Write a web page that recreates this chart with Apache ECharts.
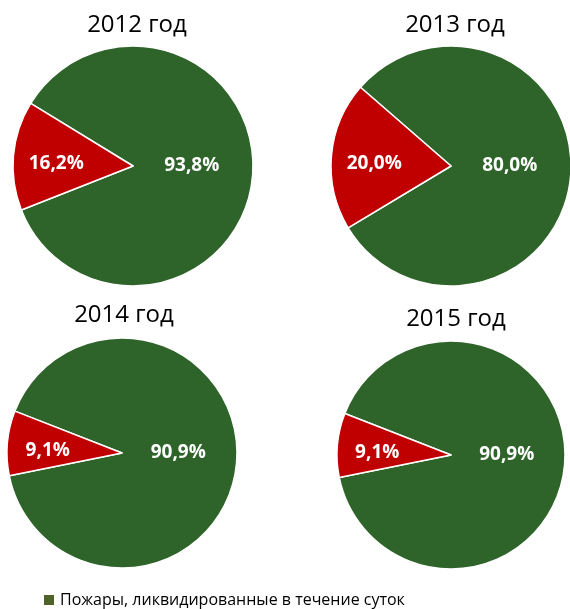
<!DOCTYPE html>
<html>
<head>
    <meta charset="utf-8">
    <title>pies</title>
    <script src="https://cdn.jsdelivr.net/npm/echarts@6/dist/echarts.min.js"></script>
</head>
<body style="margin:0;">
<div id="main" style="width:570px;height:609px;"></div>
<script type="text/javascript">
    // данные по годам
    var years = ['2012 год', '2013 год', '2014 год', '2015 год'];
    var inDay = [93.8, 80.0, 90.9, 90.9];      // ликвидированные в течение суток
    var overDay = [16.2, 20.0, 9.1, 9.1];      // остальные
    var seriesNames = ['Пожары, ликвидированные в течение суток', 'Пожары, ликвидированные более чем за сутки'];

    // размещение кругов
    var centers = [[133, 166], [451, 166], [122, 453], [451, 455]];
    var radii = [120, 120, 115, 114];
    var titlePos = [[132, 8], [450, 8], [119, 298], [451, 302]];

    var green = '#2e6329';
    var red = '#c00000';

    function fmt(v) {
        return v.toFixed(1).replace('.', ',') + '%';
    }

    var myChart = echarts.init(document.getElementById('main'));

    var titles = [];
    var series = [];
    for (var i = 0; i < years.length; i++) {
        titles.push({
            text: years[i],
            left: titlePos[i][0],
            top: titlePos[i][1],
            textAlign: 'center',
            textStyle: {fontFamily: 'Open Sans', fontSize: 24, fontWeight: 'normal', color: '#000'}
        });
        var frac = overDay[i] / (inDay[i] + overDay[i]);
        series.push({
            type: 'pie',
            center: centers[i],
            radius: [0, radii[i]],
            startAngle: 175 - frac * 180,   // красный сектор слева, чуть выше горизонтали
            clockwise: true,
            silent: true,
            itemStyle: {borderColor: '#fff', borderWidth: 1.5},
            label: {
                show: true,
                position: 'inside',
                color: '#fff',
                fontFamily: 'Open Sans',
                fontWeight: 'bold',
                fontSize: 19,
                formatter: function (p) { return fmt(p.value); }
            },
            labelLine: {show: false},
            data: [
                {name: seriesNames[0], value: inDay[i], itemStyle: {color: green},
                    label: {offset: [-4, -6]}},
                {name: seriesNames[1], value: overDay[i], itemStyle: {color: red},
                    label: {offset: [-14, 3]}}
            ]
        });
    }

    myChart.setOption({
        animation: false,
        title: titles,
        legend: {
            data: [{name: seriesNames[0], itemStyle: {color: '#4f6228'}}],
            left: 37,
            top: 587,
            icon: 'rect',
            itemWidth: 12,
            itemHeight: 12,
            itemGap: 6,
            textStyle: {fontFamily: 'Open Sans', fontSize: 16, color: '#000'}
        },
        series: series
    });
</script>
</body>
</html>
